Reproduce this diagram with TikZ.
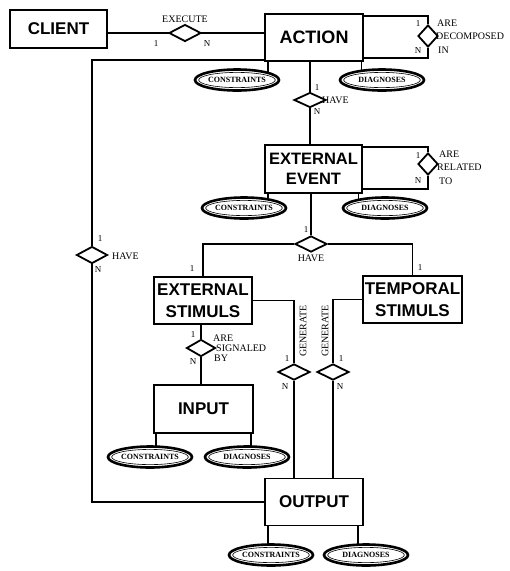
\documentclass[tikz,border=0pt]{standalone}
\usepackage{fontspec}
\setmainfont{Liberation Serif}
\newfontfamily\boxfont{Liberation Sans}
\usetikzlibrary{shapes.geometric}
\newcommand\myattr[4]{%
  \node[attrib] (#1) at (#2,#3) {#4};
  \draw[line width=0.6pt] (#1.center) ellipse [x radius=38.3pt, y radius=7.6pt];}
\begin{document}
\begin{tikzpicture}[x=1pt,y=-1pt,
  entity/.style={draw, line width=1.8pt, rectangle, inner sep=0pt, align=center,
     font=\boxfont\bfseries\fontsize{17}{21}\selectfont},
  rel/.style={draw, fill=white, diamond, line width=1.8pt, inner sep=0pt, minimum width=32pt, minimum height=17pt},
  loopdia/.style={rel, minimum width=20pt, minimum height=22pt},
  attrib/.style={draw, fill=white, ellipse, line width=2.6pt, inner sep=0pt, outer sep=0pt,
     minimum width=84pt, minimum height=21pt, font=\bfseries\fontsize{8}{9}\selectfont},
  lab/.style={font=\fontsize{10}{11}\selectfont, inner sep=0pt},
  card/.style={font=\fontsize{9}{10}\selectfont, inner sep=0pt},
  conn/.style={line width=1.8pt}]
\useasboundingbox (0,0) rectangle (510,571);

% entities
\node[entity, minimum width=97pt, minimum height=38pt] (client) at (58.5,29) {CLIENT};
\node[entity, minimum width=98pt, minimum height=47pt, font=\boxfont\bfseries\fontsize{18}{21}\selectfont] (action) at (314,37.5) {ACTION};
\node[entity, minimum width=97pt, minimum height=48pt, font=\boxfont\bfseries\fontsize{16.5}{20}\selectfont] (event) at (313.5,169) {EXTERNAL\\EVENT};
\node[entity, minimum width=98pt, minimum height=47pt, font=\boxfont\bfseries\fontsize{17}{22}\selectfont] (estim) at (203,300.5) {EXTERNAL\\STIMULS};
\node[entity, minimum width=99pt, minimum height=47pt, font=\boxfont\bfseries\fontsize{17}{22}\selectfont] (tstim) at (412.5,299.5) {TEMPORAL\\STIMULS};
\node[entity, minimum width=99pt, minimum height=48pt] (input) at (203.5,409) {INPUT};
\node[entity, minimum width=98pt, minimum height=47pt] (output) at (314,502) {OUTPUT};

% connectors (drawn first, relationships on top)
\coordinate (exW) at (169,33);
\coordinate (exE) at (201,33);
\draw[conn] (exW) -- (exW -| client.east);
\draw[conn] (exE) -- (exE -| action.west);

% relationships
\node[rel] (exec) at (185,33) {};
\node[loopdia] (decomp) at (428,36) {};
\node[rel, minimum height=15pt] (have1) at (310,100) {};
\node[loopdia] (relto) at (428,164) {};
\node[rel, minimum width=31pt] (have0) at (92,255) {};
\node[rel, minimum height=16pt] (have2) at (311,244) {};
\node[rel, minimum width=29pt] (signal) at (201,348) {};
\node[rel, minimum height=16pt] (gen1) at (294,372) {};
\node[rel, minimum height=16pt] (gen2) at (333,372) {};

% attributes
\myattr{acon}{237}{80}{CONSTRAINTS}
\myattr{adia}{382}{80}{DIAGNOSES}
\myattr{econ}{244}{208}{CONSTRAINTS}
\myattr{edia}{385}{208}{DIAGNOSES}
\myattr{icon}{150}{457}{CONSTRAINTS}
\myattr{idia}{247}{457}{DIAGNOSES}
\myattr{ocon}{271}{555}{CONSTRAINTS}
\myattr{odia}{366}{555}{DIAGNOSES}

\draw[conn] ([yshift=-3pt]action.north east) -| (decomp.north);
\draw[conn] (decomp.south) |- ([yshift=4pt]action.south east);
\draw[conn] ([yshift=2pt]action.south west) -| (have0.north);
\draw[conn] (have0.south) |- (output.west);
\draw[conn] (have1.north) -- (have1.north |- action.south);
\draw[conn] (have1.south) -- (have1.south |- event.north);
\draw[conn] ([yshift=-3pt]event.north east) -| (relto.north);
\draw[conn] (relto.south) |- ([yshift=5pt]event.south east);
\draw[conn] (have2.north) -- (have2.north |- event.south);
\draw[conn] (have2.west) -| (estim.north);
\draw[conn] (have2.east) -| (tstim.north);
\draw[conn] (signal.north) -- (signal.north |- estim.south);
\draw[conn] (signal.south) -- (signal.south |- input.north);
\draw[conn] (estim.east) -| (gen1.north);
\draw[conn] (gen1.south) -- (gen1.south |- output.north);
\draw[conn] (tstim.west) -| (gen2.north);
\draw[conn] (gen2.south) -- (gen2.south |- output.north);
% attribute links
\draw[conn] (acon.13.8) -- (acon.13.8 |- action.south);
\draw[conn] (adia.156.6) -- (adia.156.6 |- action.south);
\draw[conn] (econ.20.9) -- (econ.20.9 |- event.south);
\draw[conn] (edia.163.4) -- (edia.163.4 |- event.south);
\draw[conn] (icon.60) -- (icon.60 |- input.south);
\draw[conn] (idia.69) -- (idia.69 |- input.south);
\draw[conn] (ocon.106) -- (ocon.106 |- output.south);
\draw[conn] (odia.128) -- (odia.128 |- output.south);

% relationship labels
\node[lab] (lexec) at (185,19) {EXECUTE};
\node[card] (cexec1) at (156,44) {1};
\node[card] (cexecn) at (207,44) {N};
\node[lab, anchor=west] (ldec1) at (437,23) {ARE};
\node[lab, anchor=west] (ldec2) at (436,36) {DECOMPOSED};
\node[lab, anchor=west] (ldec3) at (438,50) {IN};
\node[card] (cdec1) at (418,24) {1};
\node[card] (cdecn) at (418,51) {N};
\node[lab, anchor=west] (lhave1) at (322,100) {HAVE};
\node[card] (chave11) at (317,88) {1};
\node[card] (chave1n) at (317,112) {N};
\node[lab, anchor=west] (lrel1) at (439,154) {ARE};
\node[lab, anchor=west] (lrel2) at (437,167) {RELATED};
\node[lab, anchor=west] (lrel3) at (439,181) {TO};
\node[card] (crel1) at (418,156) {1};
\node[card] (creln) at (418,181) {N};
\node[lab, anchor=west] (lhave0) at (112,256) {HAVE};
\node[card] (chave01) at (100,239) {1};
\node[card] (chave0n) at (98,270) {N};
\node[lab] (lhave2) at (311,258) {HAVE};
\node[card] (chave21) at (306,230) {1};
\node[card] (chave2l) at (192,269) {1};
\node[card] (chave2r) at (420,268) {1};
\node[lab, anchor=west] (lsig1) at (213,338) {ARE};
\node[lab, anchor=west] (lsig2) at (216,348) {SIGNALED};
\node[lab, anchor=west] (lsig3) at (214,358) {BY};
\node[card] (csig1) at (193,335) {1};
\node[card] (csign) at (193,362) {N};
\node[lab, rotate=90] (lgen1) at (303,331) {GENERATE};
\node[card] (cgen11) at (287,359) {1};
\node[card] (cgen1n) at (285,387) {N};
\node[lab, rotate=90] (lgen2) at (325,331) {GENERATE};
\node[card] (cgen21) at (341,359) {1};
\node[card] (cgen2n) at (340,387) {N};
\end{tikzpicture}
\end{document}
